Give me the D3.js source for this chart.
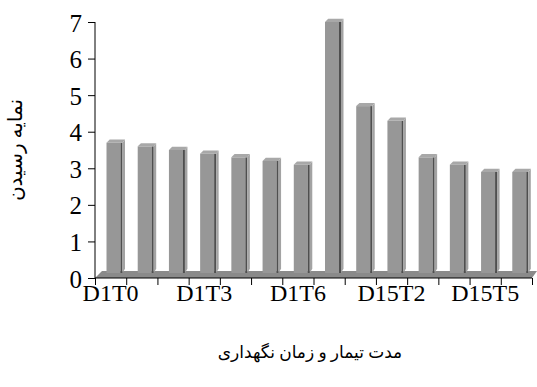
<!DOCTYPE html>
<html>
<head>
<meta charset="utf-8">
<script src="https://cdn.jsdelivr.net/npm/d3@7"></script>
<style>
  body { margin: 0; background: #fff; }
  .tick text { font-family: "Liberation Serif", serif; fill: #000; }
</style>
</head>
<body>
<svg id="chart" width="537" height="387"></svg>
<script>
// data
const categories = ["D1T0","D1T1","D1T2","D1T3","D1T4","D1T5","D1T6",
                    "D15T0","D15T1","D15T2","D15T3","D15T4","D15T5","D15T6"];
const values = [3.7, 3.6, 3.5, 3.4, 3.3, 3.2, 3.1, 7.0, 4.7, 4.3, 3.3, 3.1, 2.9, 2.9];
const yTicks = [0, 1, 2, 3, 4, 5, 6, 7];
const shownLabels = ["D1T0","D1T3","D1T6","D15T2","D15T5"];
const yTitle = "نمایه رسیدن";
const xTitle = "مدت تیمار و زمان نگهداری";

const margin = {top: 22, right: 5, bottom: 109, left: 95};
const W = 537, H = 387;
const svg = d3.select("#chart");

const x = d3.scaleBand().domain(categories).range([margin.left, W - margin.right]).padding(0);
const xi = d3.scaleLinear().domain([0, categories.length]).range([margin.left, W - margin.right]);
const y = d3.scaleLinear().domain([0, 7]).range([H - margin.bottom, margin.top]);

const base = y(0);
const depth = 7;   // floor skew

// floor
svg.append("path")
  .attr("d", "M" + [x.range()[0], base] + "L" + [x.range()[0] + depth, base - depth] +
             "L" + [x.range()[1] + 5, base - depth] + "L" + [x.range()[1], base] + "Z")
  .style("fill", "#8a8a8a");

// bars
const bw = 14, off = 11.5, side = 2.5, lift = 3.2;
const g = svg.selectAll(".bar")
  .data(values)
  .enter().append("g")
  .attr("class", "bar");

g.append("rect")
  .attr("x", (d, i) => x(categories[i]) + off)
  .attr("y", d => y(d))
  .attr("width", bw)
  .attr("height", d => base - 5 - y(d))
  .style("fill", "#979797");

g.append("rect")
  .attr("x", (d, i) => x(categories[i]) + off + bw)
  .attr("y", d => y(d))
  .attr("width", 2)
  .attr("height", d => base - 5 - y(d))
  .style("fill", "#4f4f4f");

g.append("path")
  .attr("d", function(d, i) {
    let x1 = x(categories[i]) + off + bw + 2, t = y(d);
    return "M" + [x1, t] + "L" + [x1 + side, t - lift] + "L" + [x1 + side, base - 6 - lift] +
           "L" + [x1, base - 5] + "Z";
  })
  .style("fill", "#a3a3a3");

g.append("path")
  .attr("d", function(d, i) {
    let x0 = x(categories[i]) + off, t = y(d);
    return "M" + [x0, t] + "L" + [x0 + lift, t - lift] + "L" + [x0 + bw + 2 + side, t - lift] +
           "L" + [x0 + bw + 2, t] + "Z";
  })
  .style("fill", "#a8a8a8");

// y axis
const yAxis = svg.append("g")
  .attr("transform", "translate(" + margin.left + ",0)")
  .call(d3.axisLeft(y).tickValues(yTicks).tickSize(7).tickPadding(6).tickFormat(d3.format("d")));
yAxis.select(".domain").attr("d", "M0," + y(7) + "V" + base).style("stroke", "#000");
yAxis.selectAll(".tick line").style("stroke", "#000");
yAxis.selectAll(".tick text").style("font-size", "25px").attr("dy", "0.36em");

// x axis: ticks between categories
const xAxis = svg.append("g")
  .attr("transform", "translate(0," + base + ")")
  .call(d3.axisBottom(xi).tickValues(d3.range(categories.length + 1)).tickSize(7).tickFormat(""));
xAxis.select(".domain").attr("d", "M" + x.range()[0] + ",0H" + x.range()[1]).style("stroke", "#000");
xAxis.selectAll(".tick line").style("stroke", "#000");

svg.append("g").selectAll("text")
  .data(shownLabels)
  .enter().append("text")
  .attr("x", d => x(d) + x.bandwidth() / 2)
  .attr("y", base + 23)
  .attr("text-anchor", "middle")
  .style("font-family", "'Liberation Serif', serif")
  .style("font-size", "24px")
  .text(d => d);

// titles
svg.append("text")
  .attr("transform", "translate(22,150) rotate(-90)")
  .attr("text-anchor", "middle")
  .style("font-family", "'Liberation Serif', 'DejaVu Sans', serif")
  .style("font-size", "20px")
  .text(yTitle);

svg.append("text")
  .attr("x", 310)
  .attr("y", 358)
  .attr("text-anchor", "middle")
  .style("font-family", "'Liberation Serif', 'DejaVu Sans', serif")
  .style("font-size", "17px")
  .text(xTitle);
</script>
</body>
</html>
